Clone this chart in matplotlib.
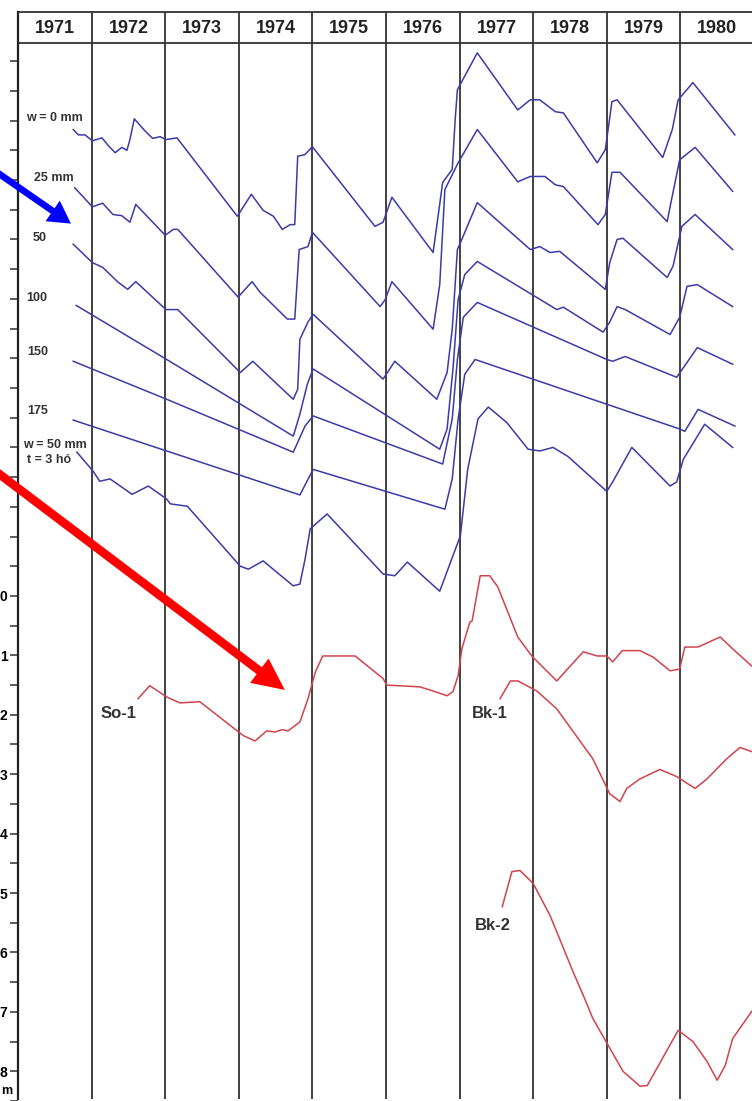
import matplotlib
matplotlib.use("Agg")
import numpy as np
import matplotlib.pyplot as plt
from matplotlib.patches import FancyArrowPatch

plt.rcParams['font.family'] = ['Liberation Sans', 'DejaVu Sans']

# year columns and depth scale labels (m)
years = list(range(1971, 1981))
depth_labels = list(range(0, 9))

# model curves (time in years, level in m on the chart scale)
w0 = [(1971.75, -7.85), (1971.82, -7.76), (1971.91, -7.76), (1972.01, -7.66), (1972.14, -7.71),
      (1972.24, -7.56), (1972.32, -7.46), (1972.41, -7.55), (1972.48, -7.50), (1972.52, -7.68),
      (1972.58, -8.03), (1972.73, -7.82), (1972.83, -7.70), (1972.93, -7.73), (1973.01, -7.68),
      (1973.16, -7.71), (1973.98, -6.39), (1974.17, -6.76), (1974.33, -6.49), (1974.47, -6.39),
      (1974.59, -6.17), (1974.70, -6.25), (1974.76, -6.25), (1974.80, -7.40), (1974.90, -7.43),
      (1975.00, -7.56), (1975.85, -6.22), (1975.96, -6.29), (1976.08, -6.71), (1976.64, -5.78),
      (1976.77, -6.96), (1976.90, -7.18), (1976.94, -8.02), (1976.97, -8.52), (1977.24, -9.14),
      (1977.79, -8.18), (1977.96, -8.35), (1978.09, -8.35), (1978.30, -8.15), (1978.41, -8.13),
      (1978.87, -7.29), (1978.98, -7.51), (1979.07, -8.32), (1979.14, -8.35), (1979.76, -7.38),
      (1979.89, -7.85), (1979.97, -8.35), (1980.17, -8.64), (1980.74, -7.76)]
w25 = [(1971.77, -6.87), (1972.01, -6.55), (1972.15, -6.61), (1972.29, -6.42), (1972.41, -6.40),
       (1972.52, -6.29), (1972.60, -6.59), (1973.00, -6.07), (1973.11, -6.17), (1973.17, -6.17),
       (1973.99, -5.03), (1974.18, -5.29), (1974.29, -5.11), (1974.66, -4.66), (1974.76, -4.66),
       (1974.82, -5.83), (1974.94, -5.88), (1975.00, -6.12), (1975.92, -4.87), (1975.99, -4.99),
       (1976.08, -5.29), (1976.64, -4.49), (1976.73, -5.24), (1976.80, -6.84), (1976.90, -7.09),
       (1976.98, -7.29), (1977.24, -7.85), (1977.79, -6.97), (1977.96, -7.06), (1978.16, -7.06),
       (1978.30, -6.92), (1978.41, -6.89), (1978.88, -6.25), (1978.98, -6.42), (1979.07, -7.13),
       (1979.18, -7.13), (1979.82, -6.30), (1979.86, -6.55), (1979.99, -7.34), (1980.20, -7.55),
       (1980.71, -6.81)]
w50 = [(1971.75, -5.92), (1972.01, -5.61), (1972.15, -5.53), (1972.36, -5.28), (1972.49, -5.16),
       (1972.60, -5.29), (1973.01, -4.82), (1973.17, -4.82), (1974.02, -3.76), (1974.19, -3.95),
       (1974.74, -3.31), (1974.80, -3.48), (1974.83, -4.32), (1974.94, -4.61), (1975.01, -4.74),
       (1975.96, -3.65), (1976.12, -3.95), (1976.69, -3.31), (1976.83, -3.76), (1976.90, -4.49),
       (1976.97, -5.83), (1977.03, -6.00), (1977.24, -6.62), (1977.96, -5.83), (1978.09, -5.88),
       (1978.23, -5.78), (1978.36, -5.80), (1978.98, -5.16), (1979.04, -5.61), (1979.14, -6.00),
       (1979.22, -6.02), (1979.82, -5.36), (1979.90, -5.55), (1980.02, -6.22), (1980.20, -6.42),
       (1980.71, -5.83)]
w100 = [(1971.79, -4.89), (1973.02, -3.98), (1974.74, -2.69), (1974.83, -3.06), (1974.93, -3.56),
        (1975.01, -3.82), (1976.73, -2.47), (1976.83, -2.81), (1976.91, -3.82), (1976.98, -4.99),
        (1977.07, -5.41), (1977.24, -5.63), (1978.32, -4.82), (1978.41, -4.86), (1978.95, -4.44),
        (1979.04, -4.61), (1979.14, -4.87), (1979.25, -4.82), (1979.86, -4.40), (1979.99, -4.69),
        (1980.09, -5.21), (1980.23, -5.24), (1980.71, -4.87)]
w150 = [(1971.75, -3.95), (1973.02, -3.31), (1974.74, -2.42), (1974.90, -2.86), (1975.01, -3.03),
        (1976.77, -2.22), (1976.90, -2.98), (1976.97, -3.98), (1977.05, -4.69), (1977.24, -4.94),
        (1979.00, -3.98), (1979.08, -3.95), (1979.25, -4.03), (1979.95, -3.68), (1980.23, -4.18),
        (1980.71, -3.90)]
w175 = [(1971.75, -2.96), (1973.02, -2.44), (1974.83, -1.70), (1975.01, -2.13), (1976.80, -1.46),
        (1976.90, -1.97), (1976.98, -2.98), (1977.07, -3.73), (1977.21, -3.98), (1979.99, -2.81),
        (1980.06, -2.77), (1980.24, -3.14), (1980.74, -2.86)]
w50_t3 = [(1971.80, -2.42), (1972.02, -2.10), (1972.11, -1.93), (1972.25, -1.97), (1972.55, -1.71),
          (1972.77, -1.85), (1973.02, -1.63), (1973.07, -1.55), (1973.30, -1.51), (1974.02, -0.50),
          (1974.13, -0.45), (1974.33, -0.59), (1974.74, -0.17), (1974.83, -0.20), (1974.90, -0.62),
          (1974.97, -1.13), (1975.20, -1.38), (1975.96, -0.37), (1976.12, -0.34), (1976.29, -0.57),
          (1976.73, -0.08), (1977.01, -1.01), (1977.11, -2.13), (1977.25, -2.98), (1977.39, -3.18),
          (1977.64, -2.92), (1977.93, -2.47), (1978.09, -2.44), (1978.27, -2.50), (1978.47, -2.35),
          (1979.00, -1.76), (1979.08, -1.92), (1979.34, -2.50), (1979.86, -1.85), (1979.95, -1.92),
          (1980.04, -2.30), (1980.33, -2.89), (1980.71, -2.50)]

# observed wells (depth below surface, m)
so1 = [(1972.63, 1.73), (1972.79, 1.51), (1973.02, 1.70), (1973.20, 1.80), (1973.47, 1.78),
       (1974.06, 2.35), (1974.22, 2.44), (1974.38, 2.27), (1974.49, 2.29), (1974.59, 2.25),
       (1974.67, 2.27), (1974.83, 2.12), (1974.94, 1.73), (1975.04, 1.28), (1975.14, 1.01),
       (1975.42, 1.01), (1975.58, 1.01), (1975.96, 1.39), (1976.01, 1.50), (1976.46, 1.53),
       (1976.64, 1.60), (1976.83, 1.68), (1976.91, 1.61), (1976.98, 1.34), (1977.03, 0.89),
       (1977.14, 0.44), (1977.17, 0.42), (1977.28, -0.34), (1977.41, -0.34), (1977.52, -0.15),
       (1977.79, 0.69), (1977.98, 1.01), (1978.32, 1.43), (1978.68, 0.94), (1978.87, 1.01),
       (1979.00, 1.01), (1979.08, 1.11), (1979.21, 0.92), (1979.45, 0.92), (1979.63, 1.03),
       (1979.86, 1.26), (1979.99, 1.23), (1980.06, 0.86), (1980.24, 0.86), (1980.54, 0.69),
       (1980.71, 0.89), (1980.97, 1.18)]
bk1 = [(1977.55, 1.73), (1977.69, 1.43), (1977.79, 1.43), (1978.05, 1.60), (1978.32, 1.90),
       (1978.81, 2.74), (1979.04, 3.33), (1979.18, 3.46), (1979.27, 3.24), (1979.45, 3.08),
       (1979.72, 2.92), (1979.95, 3.04), (1980.20, 3.24), (1980.36, 3.08), (1980.63, 2.74),
       (1980.81, 2.55), (1980.97, 2.62)]
bk2 = [(1977.58, 5.23), (1977.71, 4.64), (1977.82, 4.62), (1978.00, 4.84), (1978.23, 5.38),
       (1978.54, 6.32), (1978.68, 6.72), (1978.81, 7.11), (1979.04, 7.61), (1979.22, 8.00),
       (1979.45, 8.25), (1979.55, 8.24), (1979.97, 7.31), (1980.17, 7.50), (1980.36, 7.83),
       (1980.50, 8.15), (1980.61, 7.90), (1980.71, 7.45), (1980.97, 6.99)]

blue_curves = [w0, w25, w50, w100, w150, w175, w50_t3]
red_curves = [so1, bk1, bk2]

BLUE = '#3b3ba8'
RED = '#d2434c'
GRID = '#333333'

fig = plt.figure(figsize=(7.52, 11.01), dpi=100)
ax = fig.add_axes([0, 0, 1, 1])
ax.set_xlim(1970.755, 1980.973)
ax.set_ylim(8.47, -10.03)

head_top, head_bot = -9.83, -9.31

for s in ['top', 'right', 'bottom']:
    ax.spines[s].set_visible(False)
ax.spines['left'].set_position(('data', years[0]))
ax.spines['left'].set_bounds(head_top, 8.47)
ax.spines['left'].set_linewidth(1.6)
ax.spines['left'].set_color('#222222')

ax.set_xticks([])
ax.set_yticks(depth_labels)
ax.set_yticklabels([str(v) for v in depth_labels], fontsize=10, fontweight='bold')
ax.set_yticks(np.arange(-9, 8.6, 0.5), minor=True)
ax.tick_params(axis='y', which='both', direction='out', length=5.5, width=1.1,
               color='#333333', pad=2)

# year columns and header
ax.vlines(years[1:], head_top, 8.47, color=GRID, lw=1.3)
ax.hlines([head_top, head_bot], years[0], years[-1] + 1, color=GRID, lw=1.3)
for y in years:
    ax.text(y + 0.5, -9.55, str(y), ha='center', va='center', fontsize=13,
            fontweight='bold', color='#222222')

for c in blue_curves:
    t, d = zip(*c)
    ax.plot(t, d, color=BLUE, lw=1.1)
for c in red_curves:
    t, d = zip(*c)
    ax.plot(t, d, color=RED, lw=1.1)

# curve labels
lab = dict(fontsize=9, fontweight='bold', color='#333333', ha='center', va='center')
ax.text(1971.50, -8.05, 'w = 0 mm', **lab)
ax.text(1971.48, -7.04, '25 mm', **lab)
ax.text(1971.30, -6.03, '50', **lab)
ax.text(1971.26, -5.01, '100', **lab)
ax.text(1971.27, -4.10, '150', **lab)
ax.text(1971.27, -3.11, '175', **lab)
ax.text(1971.50, -2.54, 'w = 50 mm', **lab)
ax.text(1971.42, -2.29, 't = 3 hó', **lab)

wl = dict(fontsize=12, fontweight='bold', color='#333333', ha='center', va='center')
ax.text(1972.36, 1.98, 'So-1', **wl)
ax.text(1977.41, 1.98, 'Bk-1', **wl)
ax.text(1977.45, 5.55, 'Bk-2', **wl)
ax.text(1970.765, 8.33, 'm', fontsize=9, fontweight='bold', ha='left', va='center')

# pointer arrows
ax.add_patch(FancyArrowPatch((1970.48, -7.33), (1971.75, -6.24),
                             arrowstyle='simple,head_length=1.6,head_width=1.8,tail_width=0.48',
                             mutation_scale=10, color='#0000ff', lw=0, zorder=5))
ax.add_patch(FancyArrowPatch((1970.48, -2.30), (1974.655, 1.61),
                             arrowstyle='simple,head_length=2.3,head_width=2.2,tail_width=0.62',
                             mutation_scale=10, color='#ff0000', lw=0, zorder=5))

fig.savefig('out.png', dpi=100)
